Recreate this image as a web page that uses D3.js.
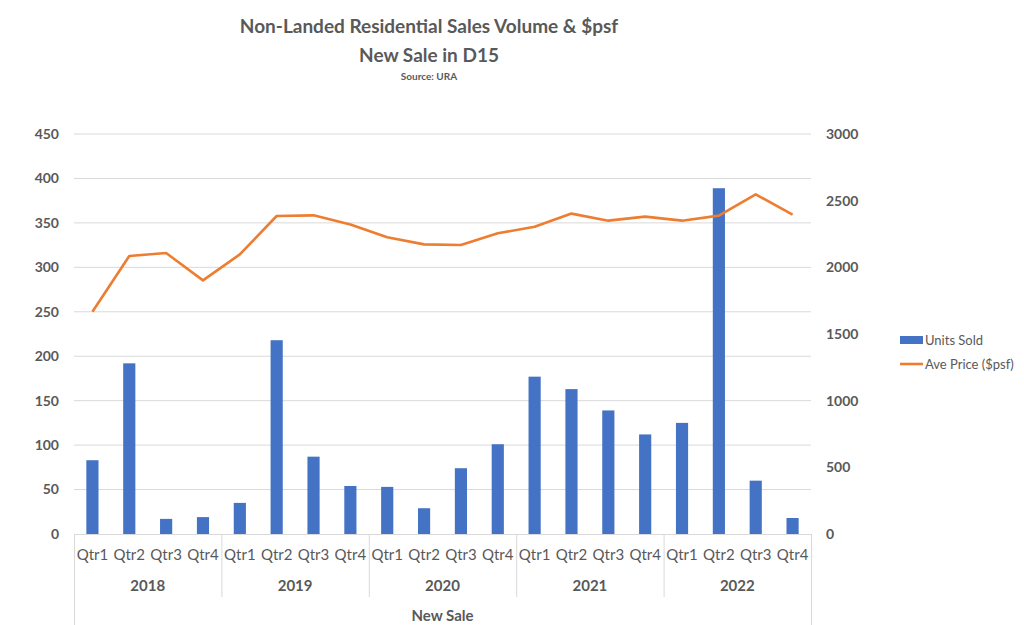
<!DOCTYPE html>
<html><head><meta charset="utf-8">
<script src="https://cdn.jsdelivr.net/npm/d3@7"></script>
<style>body{margin:0;background:#fff;} svg{display:block;font-family:Lato, "Open Sans", sans-serif;}</style>
</head><body><svg id="c" width="1024" height="625"></svg>
<script>
const years = ["2018","2019","2020","2021","2022"];
const quarters = ["Qtr1","Qtr2","Qtr3","Qtr4"];
const unitsSold = [83,192,17,19, 35,218,87,54, 53,29,74,101, 177,163,139,112, 125,389,60,18];
const avePrice = [1667,2085,2107,1902, 2097,2385,2390,2322, 2225,2172,2167,2255, 2305,2403,2350,2380, 2350,2388,2547,2395];
const leftTicks = [0,50,100,150,200,250,300,350,400,450];
const rightTicks = [0,500,1000,1500,2000,2500,3000];
const titleLines = ["Non-Landed Residential Sales Volume & $psf","New Sale in D15"];
const sourceText = "Source: URA";
const seriesNames = ["Units Sold","Ave Price ($psf)"];
const axisTitle = "New Sale";

const cats = [];
years.forEach(y => quarters.forEach(q => cats.push(y + "-" + q)));

const svg = d3.select("#c");
const L = 74, R = 811, T = 134, B = 534;
const grey = "#595959", gridC = "#d9d9d9";

const x = d3.scaleBand().domain(cats).range([L, R]).paddingInner(0.67).paddingOuter(0.335);
const yL = d3.scaleLinear().domain([0,450]).range([B,T]);
const yR = d3.scaleLinear().domain([0,3000]).range([B,T]);

// gridlines
svg.append("g").selectAll("line").data(leftTicks.slice(1)).join("line")
  .attr("x1",L).attr("x2",R).attr("y1",d=>yL(d)).attr("y2",d=>yL(d))
  .attr("stroke",gridC).attr("stroke-width",1);

// left axis labels
svg.append("g").selectAll("text").data(leftTicks).join("text")
  .attr("x",59).attr("y",d=>yL(d)).attr("dy","0.35em").attr("text-anchor","end")
  .attr("font-size",14).attr("font-weight","bold").attr("fill",grey).text(d=>d);
// right axis labels
svg.append("g").selectAll("text").data(rightTicks).join("text")
  .attr("x",826).attr("y",d=>yR(d)).attr("dy","0.35em").attr("text-anchor","start")
  .attr("font-size",14).attr("font-weight","bold").attr("fill",grey).text(d=>d);

// bars
svg.append("g").selectAll("rect").data(unitsSold).join("rect")
  .attr("x",(d,i)=>x(cats[i])).attr("width",x.bandwidth())
  .attr("y",d=>yL(d)).attr("height",d=>B-yL(d)).attr("fill","#4472C4");

// line
const line = d3.line().x((d,i)=>x(cats[i])+x.bandwidth()/2).y(d=>yR(d));
svg.append("path").datum(avePrice).attr("d",line).attr("fill","none")
  .attr("stroke","#ED7D31").attr("stroke-width",2.6).attr("stroke-linejoin","round");

// category axis
const ax = svg.append("g");
ax.append("line").attr("x1",L).attr("x2",R).attr("y1",B+0.5).attr("y2",B+0.5).attr("stroke",gridC);
const step = x.step();
const yearStart = i => L + i*4*step;
ax.selectAll("line.sep").data(d3.range(years.length+1)).join("line").attr("class","sep")
  .attr("x1",i=>yearStart(i)+0.5).attr("x2",i=>yearStart(i)+0.5)
  .attr("y1",B).attr("y2",i=>(i===0||i===years.length)?625:597)
  .attr("stroke",gridC);
ax.selectAll("text.q").data(cats).join("text").attr("class","q")
  .attr("x",d=>x(d)+x.bandwidth()/2).attr("y",555).attr("dy","0.35em").attr("text-anchor","middle")
  .attr("font-size",15).attr("fill",grey).text(d=>d.split("-")[1]);
ax.selectAll("text.yr").data(years).join("text").attr("class","yr")
  .attr("x",(d,i)=>yearStart(i)+2*step).attr("y",586).attr("dy","0.35em").attr("text-anchor","middle")
  .attr("font-size",15).attr("font-weight","bold").attr("fill",grey).text(d=>d);
ax.append("text").attr("x",(L+R)/2).attr("y",616).attr("dy","0.35em").attr("text-anchor","middle")
  .attr("font-size",15).attr("font-weight","bold").attr("fill",grey).text(axisTitle);

// title
const tx = 429;
svg.append("text").attr("x",tx).attr("y",33).attr("text-anchor","middle").attr("font-size",19)
  .attr("font-weight","bold").attr("fill",grey).text(titleLines[0]);
svg.append("text").attr("x",tx).attr("y",62).attr("text-anchor","middle").attr("font-size",19)
  .attr("font-weight","bold").attr("fill",grey).text(titleLines[1]);
svg.append("text").attr("x",tx).attr("y",80).attr("text-anchor","middle").attr("font-size",10)
  .attr("font-weight","bold").attr("fill",grey).text(sourceText);

// legend
const lg = svg.append("g");
lg.append("rect").attr("x",900).attr("y",336).attr("width",23).attr("height",8).attr("fill","#4472C4");
lg.append("text").attr("x",925).attr("y",340).attr("dy","0.35em").attr("font-size",13).attr("fill",grey).text(seriesNames[0]);
lg.append("line").attr("x1",900).attr("x2",923).attr("y1",364).attr("y2",364).attr("stroke","#ED7D31").attr("stroke-width",2.6);
lg.append("text").attr("x",925).attr("y",364).attr("dy","0.35em").attr("font-size",13).attr("fill",grey).text(seriesNames[1]);
</script></body></html>
